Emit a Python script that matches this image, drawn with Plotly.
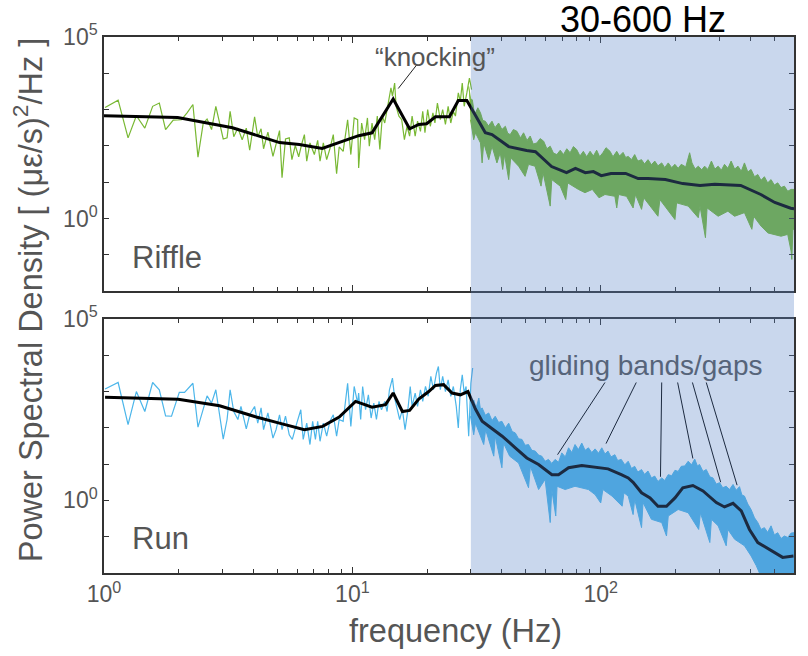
import numpy as np
import plotly.graph_objects as go

# ---------------- data ----------------
# Riffle: raw PSD below 30 Hz (frequency in Hz, log10 of PSD)
riffle_raw_freq = [1.01,1.14,1.25,1.35,1.46,1.57,1.67,1.77,1.90,2.05,
                   2.16,2.28,2.39,2.51,2.60,2.71,2.82,3.02,3.13,3.22,
                   3.33,3.46,3.60,3.74,3.86,4.04,4.16,4.29,4.39,4.57,
                   4.79,5.09,5.21,5.38,5.57,5.71,5.89,6.08,6.27,6.41,
                   6.55,6.75,7.03,7.25,7.41,7.64,7.88,8.12,8.38,8.64,
                   8.85,9.18,9.57,9.86,10.17,10.5,
                   10.6,10.9,11.2,11.5,11.7,12.0,12.3,12.6,12.9,13.2,
                   13.5,13.9,14.3,14.5,14.8,15.0,15.4,15.8,16.2,16.6,
                   17.0,17.4,17.9,18.3,18.8,19.2,19.6,20.1,20.6,21.1,
                   21.5,22.0,22.6,23.1,23.7,24.3,24.9,25.5,26.0,26.7,
                   27.2,27.7,28.2,28.9,29.6,30.2]
riffle_raw_log10 = [3.06,3.26,2.22,2.83,2.49,3.09,3.18,2.45,2.71,2.72,
                    2.91,3.14,1.69,2.63,2.74,2.45,3.09,2.19,2.22,2.95,
                    2.25,2.49,2.17,2.49,1.88,2.80,2.25,2.47,1.92,2.38,
                    1.71,2.42,1.12,2.19,2.22,1.62,2.01,1.70,2.08,2.31,
                    1.58,2.08,1.76,2.15,1.58,2.08,1.62,1.92,2.31,1.23,
                    1.97,1.85,2.72,1.76,2.77,2.72,
                    1.39,2.63,2.17,2.77,1.99,2.63,2.17,2.82,1.90,2.82,
                    2.63,3.09,3.60,3.37,3.73,3.09,2.82,2.72,2.17,2.54,
                    2.27,2.82,2.27,2.68,2.40,2.95,2.36,3.00,2.54,2.91,
                    2.63,3.18,2.72,3.00,2.59,3.09,2.63,2.95,2.82,3.46,
                    3.23,3.73,3.09,3.46,3.87,3.55]

# Riffle: dense raw PSD above 30 Hz, given as its upper and lower envelope
riffle_band_up_freq = [29.4,29.9,30.4,30.9,31.3,32.0,32.8,33.5,34.3,35.3,
                       36.5,37.5,38.8,40.0,41.3,42.2,43.2,44.5,46.0,47.5,
                       48.9,50.5,52.0,53.5,55.3,57.0,58.9,60.7,62.6,64.5,
                       66.6,68.7,70.8,73.0,75.3,77.6,80.0,82.5,85.1,87.8,
                       90.6,93.4,96.3,99,102,105,109,112,116,119,
                       123,126,129,133,137,141,146,150,155,160,
                       165,170,176,181,187,193,199,205,211,220,
                       228,233,240,247,255,262,270,279,288,297,
                       306,315,325,335,346,357,368,379,391,403,
                       416,429,442,456,470,485,500,516,532,549,
                       566,584,600]
riffle_band_up_log10 = [3.64,3.30,3.27,2.95,2.91,3.05,2.91,2.70,2.68,2.55,
                        2.68,2.50,2.63,2.45,2.54,2.35,2.31,2.45,2.40,2.22,
                        2.36,2.15,2.27,2.05,2.08,2.20,2.13,1.92,1.99,1.80,
                        1.76,1.88,1.76,1.92,1.81,1.98,1.90,1.72,1.85,1.70,
                        1.85,1.72,1.88,1.70,1.81,1.95,1.85,1.70,1.85,1.72,
                        1.82,1.68,1.71,1.62,1.76,1.58,1.62,1.50,1.62,1.48,
                        1.58,1.45,1.53,1.40,1.53,1.40,1.49,1.38,1.49,1.42,
                        1.81,1.53,1.36,1.44,1.34,1.44,1.35,1.58,1.36,1.44,
                        1.33,1.49,1.38,1.58,1.36,1.44,1.30,1.53,1.28,1.35,
                        1.15,1.21,1.05,1.15,0.98,1.07,0.92,0.98,0.85,0.89,
                        0.75,0.80,0.80]
riffle_band_lo_freq = [29.9,30.8,31.3,32.8,33.3,33.8,35.4,36.5,38.2,39.4,
                       40.3,41.0,42.6,43.4,46.7,49.6,51.2,54.4,57.5,58.6,
                       62.6,63.5,68.7,72.3,73.6,81.3,86.4,92.5,98.4,104,
                       114,116,118,127,135,138,
                       146,149,170,173,199,202,225,247,251,264,
                       268,297,325,346,379,406,413,442,471,501,
                       532,566,584,588,594,600]
riffle_band_lo_log10 = [2.72,2.17,2.36,2.08,1.53,2.08,1.62,1.99,1.53,1.81,
                        1.35,1.76,1.07,1.67,1.44,1.16,1.49,1.44,0.89,1.26,
                        0.34,1.07,0.89,0.52,0.98,0.80,0.71,0.80,0.57,0.66,
                        0.61,0.29,0.66,0.61,0.29,0.66,
                        0.25,0.57,0.06,0.52,-0.03,0.43,0.34,0.02,0.34,-0.53,
                        0.29,0.06,0.20,0.06,0.16,-0.30,0.06,-0.21,-0.40,-0.44,
                        -0.49,-0.44,-0.90,-1.13,-0.30,-0.30]

# Riffle: smoothed PSD
riffle_smooth_freq = [1.0,1.98,3.29,5.09,6.12,7.56,10.6,12.0,14.6,17.0,
                      18.5,19.9,21.6,24.6,26.7,28.9,31.4,34.3,36.5,42.6,
                      50.3,54.6,63.4,72.8,79.1,86.7,93.4,100.5,110,126,
                      141.5,155,182,214,251,288,366,441,502,582,600]
riffle_smooth_log10 = [2.83,2.78,2.50,2.09,2.04,1.93,2.28,2.36,3.29,2.47,
                       2.59,2.61,2.80,2.80,3.25,3.25,2.82,2.36,2.31,1.98,
                       1.87,1.84,1.43,1.26,1.38,1.26,1.29,1.18,1.24,1.24,
                       1.10,1.10,1.07,0.96,0.91,0.94,0.91,0.66,0.44,0.28,0.27]

# Run: raw PSD below 30 Hz
run_raw_freq = [1.01,1.14,1.25,1.35,1.46,1.57,1.67,1.77,1.87,2.01,
                2.11,2.28,2.39,2.60,2.71,2.82,3.02,3.13,3.22,3.33,
                3.46,3.56,3.74,3.86,4.04,4.16,4.29,4.39,4.57,4.79,
                4.93,5.09,5.21,5.38,5.57,5.73,5.95,6.20,6.34,6.55,
                6.75,6.92,7.10,7.25,7.41,7.64,7.88,8.12,8.38,8.64,
                8.85,9.18,9.57,9.86,10.17,10.5,
                10.6,10.8,11.0,11.3,11.6,11.9,12.2,12.5,12.8,13.1,
                13.5,13.8,14.1,14.5,14.8,15.1,15.5,15.9,16.3,16.7,
                17.1,17.4,17.9,18.3,18.8,19.2,19.7,20.2,20.7,21.2,
                21.8,22.2,22.6,23.1,23.7,24.3,24.9,25.5,26.2,26.7,
                27.2,27.7,28.2,28.7,29.4,30.0,30.5]
run_raw_log10 = [3.07,3.25,2.09,3.00,2.45,3.25,3.05,2.33,2.32,2.98,
                 2.98,3.23,2.02,2.88,2.68,3.05,1.69,2.23,3.05,2.45,
                 2.23,2.59,1.97,2.36,2.59,2.13,2.55,1.95,2.41,1.72,
                 1.95,2.36,1.95,2.32,1.81,1.68,2.09,2.50,1.68,2.13,
                 1.54,2.18,1.68,2.18,1.63,2.13,1.77,2.18,2.36,1.77,
                 2.23,2.18,3.23,2.04,3.14,2.68,
                 2.96,2.23,3.14,2.50,2.91,2.27,2.68,2.23,2.73,2.50,
                 2.73,2.45,3.05,3.37,2.82,2.59,2.23,2.50,1.95,2.45,
                 3.14,2.59,2.96,2.59,3.05,2.73,3.14,2.87,3.42,3.05,
                 3.51,3.69,3.05,3.42,3.00,3.32,2.87,3.14,2.59,2.00,
                 3.05,3.46,2.96,3.14,1.77,3.23,3.65]

# Run: dense raw PSD above 30 Hz, upper and lower envelope
run_band_up_freq = [29.9,30.4,30.8,31.5,32.3,32.8,33.3,34.3,35.4,36.5,
                    37.6,38.8,40.0,41.3,42.6,44.0,45.3,46.7,48.2,49.6,
                    51.2,52.8,54.5,56.2,57.9,59.7,61.6,63.5,65.5,67.6,
                    69.7,72.0,74.2,76.5,78.8,81.3,83.9,86.5,89.2,92.0,
                    94.9,98.0,101,104,107,110,114,117,121,125,
                    129,133,137,141,146,150,155,160,165,170,
                    176,181,187,193,199,205,211,218,225,232,
                    239,245,250,258,266,275,283,292,301,310,
                    320,330,341,351,362,370,379,391,403,416,
                    429,442,456,470,485,500,516,532,549,566,
                    584,600]
run_band_up_log10 = [2.91,2.60,2.77,2.55,2.82,2.50,2.55,2.35,2.41,2.20,
                     2.32,2.15,2.18,2.00,2.13,1.90,1.86,1.70,1.68,1.52,
                     1.54,1.38,1.36,1.25,1.22,1.08,1.13,1.02,1.13,1.05,
                     1.31,1.20,1.45,1.32,1.54,1.40,1.58,1.38,1.45,1.32,
                     1.42,1.30,1.45,1.28,1.36,1.20,1.26,1.10,1.13,0.98,
                     1.08,0.88,0.94,0.78,0.85,0.72,0.81,0.62,0.67,0.52,
                     0.62,0.55,0.71,0.68,0.83,0.80,0.94,0.95,1.08,0.98,
                     1.14,0.95,0.99,0.80,0.85,0.65,0.62,0.45,0.49,0.35,
                     0.39,0.30,0.44,0.28,0.38,0.15,0.12,-0.10,-0.25,-0.48,
                     -0.61,-0.80,-0.75,-0.88,-0.70,-0.95,-0.89,-1.05,-0.98,-1.02,
                     -0.90,-0.89]
run_band_lo_freq = [29.9,30.8,31.3,33.8,34.4,37.1,37.6,40.0,40.6,43.0,
                    46.7,51.2,52.1,56.2,59.7,62.6,63.5,65.9,66.7,71.9,
                    78.8,89.2,94.9,100,102,111,122,124,129,135,
                    137,146,148,160,176,184,187,205,225,248,
                    252,275,279,297,320,325,346,379,403,423,442,600]
run_band_lo_log10 = [2.32,1.81,2.13,1.54,1.95,1.22,1.77,0.90,1.58,1.22,
                     1.03,0.35,0.94,0.30,0.58,-0.61,0.30,-0.43,0.39,0.30,
                     0.39,0.30,0.16,-0.07,0.30,0.12,-0.16,0.21,0.12,-0.39,
                     0.03,-0.75,-0.06,-0.52,-0.61,-0.98,-0.43,-0.25,-0.34,-0.80,
                     -0.34,-1.16,-0.52,-0.70,-1.25,-0.80,-1.07,-1.25,-1.53,-1.80,-2.1,-2.1]

# Run: smoothed PSD
run_smooth_freq = [1.01,1.99,2.92,4.10,5.08,6.41,7.59,8.85,10.3,12.0,
                   13.6,14.6,15.9,17.0,18.5,20.3,21.6,23.3,25.2,27.2,
                   29.2,31.3,33.3,35.4,40.1,45.3,50.4,56.2,63.6,67.6,
                   74.2,83.9,94.9,107,121,129,135,146,158,170,
                   184,199,214,235,258,292,315,341,368,397,
                   429,485,540,597]
run_smooth_log10 = [2.84,2.79,2.61,2.30,2.13,1.95,2.04,2.30,2.73,2.57,
                    2.64,2.96,2.45,2.48,2.79,3.00,3.17,3.19,2.96,2.91,
                    3.00,2.52,2.18,2.05,1.77,1.45,1.17,0.99,0.71,0.71,
                    0.90,0.96,0.92,0.87,0.71,0.62,0.50,0.21,0.07,-0.16,
                    -0.16,0.07,0.35,0.41,0.26,-0.06,-0.18,-0.08,-0.29,-0.80,
                    -1.16,-1.39,-1.57,-1.53]

# highlighted band and annotation targets
band_range_hz = [30, 600]
knock_label_freq, knock_label_psd = 18.2, 17400
knock_target_freq, knock_target_psd = 15.3, 3800
gap_label_freq = [104, 139, 176, 204, 234, 266]
gap_label_psd = 1780
gap_target_freq = [67, 105, 174, 235, 304, 354]
gap_target_psd = [18.2, 36.8, 4.48, 14.3, 3.18, 2.63]

x_major_vals = [1, 10, 100]
x_major_text = ["10<sup>0</sup>", "10<sup>1</sup>", "10<sup>2</sup>"]
x_minor_vals = [2,3,4,5,6,7,8,9,20,30,40,50,60,70,80,90,200,300,400,500]
y_major_vals = [1, 1e5]
y_major_text = ["10<sup>0</sup>", "10<sup>5</sup>"]
y_minor_vals = [1e-2, 1e-1, 10, 100, 1e3, 1e4]

# ---------------- figure ----------------
GREEN = "#78b833"
BLUE = "#4cb6ea"
p10 = lambda a: np.power(10.0, np.asarray(a))

fig = go.Figure()

def add_panel(xa, ya, color, raw_f, raw_l, up_f, up_l, lo_f, lo_l, sm_f, sm_l):
    bx = list(up_f) + list(lo_f)[::-1]
    by = list(p10(up_l)) + list(p10(lo_l))[::-1]
    fig.add_trace(go.Scatter(x=bx, y=by, mode="lines", fill="toself", fillcolor=color,
                             line=dict(color=color, width=1), xaxis=xa, yaxis=ya,
                             hoverinfo="skip", showlegend=False))
    fig.add_trace(go.Scatter(x=raw_f, y=p10(raw_l), mode="lines",
                             line=dict(color=color, width=1.2), xaxis=xa, yaxis=ya,
                             showlegend=False))
    fig.add_trace(go.Scatter(x=sm_f, y=p10(sm_l), mode="lines",
                             line=dict(color="black", width=3), xaxis=xa, yaxis=ya,
                             showlegend=False))

add_panel("x", "y", GREEN, riffle_raw_freq, riffle_raw_log10,
          riffle_band_up_freq, riffle_band_up_log10, riffle_band_lo_freq, riffle_band_lo_log10,
          riffle_smooth_freq, riffle_smooth_log10)
add_panel("x2", "y2", BLUE, run_raw_freq, run_raw_log10,
          run_band_up_freq, run_band_up_log10, run_band_lo_freq, run_band_lo_log10,
          run_smooth_freq, run_smooth_log10)

FONT = "Liberation Sans, Arial, Helvetica, sans-serif"
TXT = "#555555"
axis_common = dict(type="log", showline=True, linecolor="#333333", linewidth=1.5,
                   mirror="ticks", ticks="inside", tickwidth=1.2,
                   tickcolor="#333333", showgrid=False, zeroline=False,
                   tickmode="array",
                   tickfont=dict(family=FONT, size=23, color=TXT))
xr = [0, np.log10(600)]
yr = [-2, 5]
x_minor = dict(tickmode="array", tickvals=x_minor_vals, ticks="inside", ticklen=4,
               tickwidth=1.2, tickcolor="#333333", showgrid=False)
y_minor = dict(tickmode="array", tickvals=y_minor_vals, ticks="inside", ticklen=5,
               tickwidth=1.2, tickcolor="#333333", showgrid=False)
fig.update_layout(
    width=808, height=656,
    margin=dict(l=104, r=12, t=37, b=83),
    paper_bgcolor="white", plot_bgcolor="white",
    xaxis=dict(axis_common, anchor="y", domain=[0, 1], range=xr, ticklen=6,
               tickvals=x_major_vals, showticklabels=False, minor=x_minor),
    yaxis=dict(axis_common, anchor="x", domain=[0.5261, 1], range=yr, ticklen=5,
               tickvals=y_major_vals, ticktext=y_major_text, minor=y_minor),
    xaxis2=dict(axis_common, anchor="y2", domain=[0, 1], range=xr, ticklen=6,
                tickvals=x_major_vals, ticktext=x_major_text, minor=x_minor),
    yaxis2=dict(axis_common, anchor="x2", domain=[0, 0.4739], range=yr, ticklen=5,
                tickvals=y_major_vals, ticktext=y_major_text, minor=y_minor),
    showlegend=False,
)

shapes = [dict(type="rect", xref="x", yref="paper", x0=band_range_hz[0], x1=band_range_hz[1],
               y0=0, y1=1, fillcolor="rgba(87,131,200,0.32)", line=dict(width=0), layer="above")]
shapes.append(dict(type="line", xref="x", yref="y", x0=knock_label_freq, y0=knock_label_psd,
                   x1=knock_target_freq, y1=knock_target_psd, line=dict(color="#222222", width=1),
                   layer="above"))
for lf, tf, tp in zip(gap_label_freq, gap_target_freq, gap_target_psd):
    shapes.append(dict(type="line", xref="x2", yref="y2", x0=lf, y0=gap_label_psd,
                       x1=tf, y1=tp, line=dict(color="#1c2a40", width=1), layer="above"))
fig.update_layout(shapes=shapes)

ann = [
    dict(text="30-600 Hz", x=0.7818, y=1.0326, font=dict(size=36, color="black")),
    dict(text="Power Spectral Density [ (με/s)<sup>2</sup>/Hz ]", x=-0.1098, y=0.5093,
         textangle=-90, font=dict(size=32.5, color=TXT)),
    dict(text="frequency (Hz)", x=0.510, y=-0.1082, font=dict(size=32.5, color=TXT)),
    dict(text="Riffle", x=0.0376, y=0.589, xanchor="left", font=dict(size=31, color=TXT)),
    dict(text="Run", x=0.0376, y=0.065, xanchor="left", font=dict(size=31, color=TXT)),
    dict(text="“knocking”", x=0.4798, y=0.9627, font=dict(size=26, color=TXT)),
    dict(text="gliding bands/gaps", x=0.786, y=0.388, font=dict(size=28, color="#56647a")),
]
for a in ann:
    a.setdefault("xanchor", "center")
    a.update(xref="paper", yref="paper", yanchor="middle", showarrow=False)
    a["font"]["family"] = FONT
fig.update_layout(annotations=ann)

fig.write_html("out.html")
